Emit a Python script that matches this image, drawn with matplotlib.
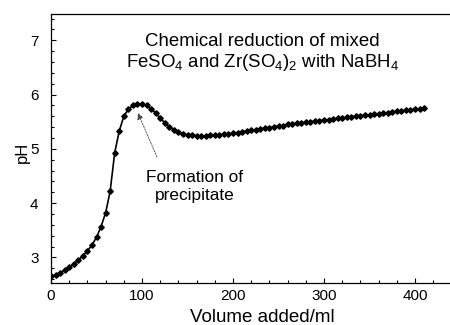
import matplotlib
matplotlib.use("Agg")
import matplotlib.pyplot as plt
from matplotlib.ticker import MultipleLocator

plt.rcParams['font.family'] = ['Liberation Sans', 'DejaVu Sans']
plt.rcParams['mathtext.fontset'] = 'custom'
plt.rcParams['mathtext.rm'] = 'Liberation Sans'
plt.rcParams['mathtext.it'] = 'Liberation Sans:italic'
plt.rcParams['mathtext.bf'] = 'Liberation Sans:bold'

volume = [0, 5, 10, 15, 20, 25, 30, 35, 40, 45, 50, 55, 60, 65, 70, 75, 80, 85, 90, 95,
          100, 105, 110, 115, 120, 125, 130, 135, 140, 145, 150, 155, 160, 165, 170, 175,
          180, 185, 190, 195, 200, 205, 210, 215, 220, 225, 230, 235, 240, 245, 250, 255,
          260, 265, 270, 275, 280, 285, 290, 295, 300, 305, 310, 315, 320, 325, 330, 335,
          340, 345, 350, 355, 360, 365, 370, 375, 380, 385, 390, 395, 400, 405, 410]
ph = [2.65, 2.68, 2.72, 2.76, 2.82, 2.88, 2.95, 3.03, 3.12, 3.23, 3.37, 3.57, 3.82, 4.22,
      4.93, 5.33, 5.60, 5.73, 5.80, 5.83, 5.83, 5.80, 5.74, 5.66, 5.57, 5.48, 5.41, 5.35,
      5.31, 5.28, 5.26, 5.25, 5.24, 5.24, 5.24, 5.25, 5.25, 5.26, 5.27, 5.28, 5.29, 5.30,
      5.31, 5.33, 5.34, 5.35, 5.37, 5.38, 5.39, 5.41, 5.42, 5.43, 5.45, 5.46, 5.47, 5.48,
      5.49, 5.50, 5.51, 5.52, 5.53, 5.54, 5.55, 5.56, 5.57, 5.58, 5.59, 5.60, 5.61, 5.62,
      5.63, 5.64, 5.65, 5.66, 5.67, 5.68, 5.69, 5.70, 5.71, 5.72, 5.73, 5.74, 5.75]

title_line1 = "Chemical reduction of mixed"
title_line2 = "FeSO$_4$ and Zr(SO$_4$)$_2$ with NaBH$_4$"
note_text = "Formation of\nprecipitate"

fig = plt.figure(figsize=(4.5, 3.25), dpi=100)
ax = fig.add_axes([51/450, 1 - 282.7/325, 400.4/450, 268.7/325])

ax.plot(volume, ph, color='black', lw=1.2, marker='D', markersize=2.8,
        markerfacecolor='black', markeredgecolor='black')

ax.set_xlim(0, 440)
ax.set_ylim(2.535, 7.485)
ax.xaxis.set_major_locator(MultipleLocator(100))
ax.xaxis.set_minor_locator(MultipleLocator(20))
ax.yaxis.set_major_locator(MultipleLocator(1))
ax.yaxis.set_minor_locator(MultipleLocator(0.2))
ax.tick_params(which='both', direction='in', top=False, right=False, width=0.8)
ax.tick_params(which='major', length=3.5, labelsize=11)
ax.tick_params(which='minor', length=2)
ax.tick_params(axis='x', which='major', pad=4.5)
ax.tick_params(axis='y', which='major', pad=9)
for s in ['left', 'bottom', 'top']:
    ax.spines[s].set_linewidth(0.9)
ax.spines['right'].set_visible(False)

ax.set_xlabel("Volume added/ml", fontsize=13.5)
ax.xaxis.set_label_coords(0.528, -0.097)
ax.set_ylabel("pH", fontsize=12)
ax.yaxis.set_label_coords(-0.052, 0.486)

ax.text(232, 6.97, title_line1, fontsize=13.4, ha='center', va='center')
ax.text(232, 6.60, title_line2, fontsize=13.4, ha='center', va='center')

ax.text(158, 4.30, note_text, fontsize=12.4, ha='center', va='center', linespacing=1.25)
ax.annotate('', xy=(95.5, 5.66), xytext=(116.5, 4.85),
            arrowprops=dict(arrowstyle='-|>', color='#444444', lw=0.6,
                            linestyle=(0, (2, 1.5)), shrinkA=0, shrinkB=0,
                            mutation_scale=9))

fig.savefig("out.png", dpi=100)
